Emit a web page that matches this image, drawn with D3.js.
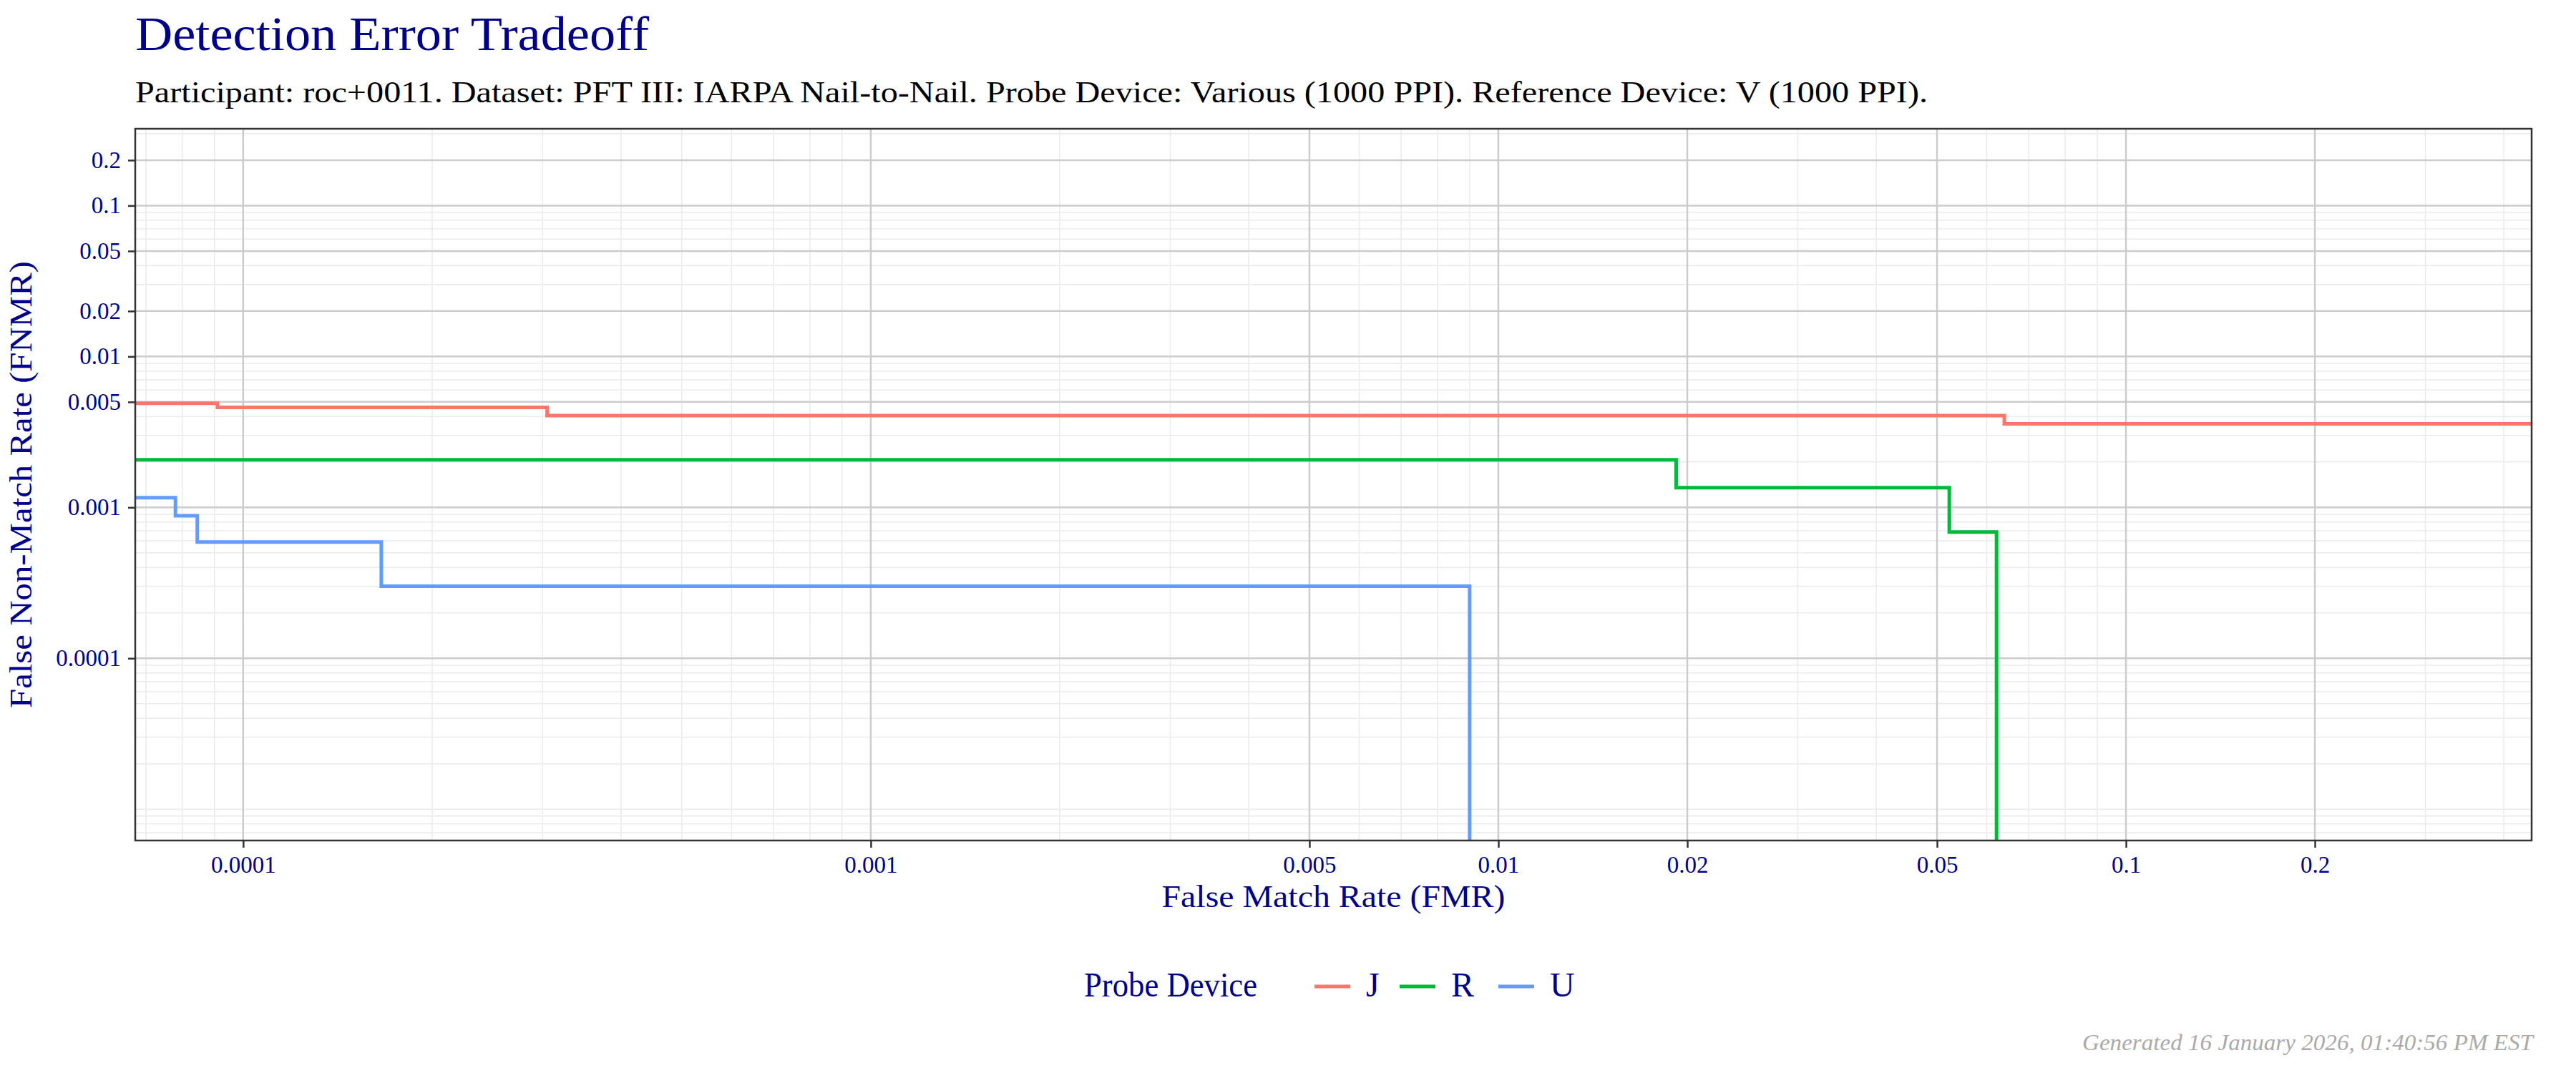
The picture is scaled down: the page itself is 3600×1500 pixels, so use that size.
<!DOCTYPE html>
<html><head><meta charset="utf-8">
<script src="https://cdn.jsdelivr.net/npm/d3@7/dist/d3.min.js"></script>
<style>body{margin:0;background:#fff}text{font-family:"Liberation Serif","DejaVu Serif",serif}</style>
</head><body>
<svg id="c" width="3600" height="1500"></svg>
<script>
const seriesNames = ["J","R","U"];
const seriesColors = ["#F8766D","#00BA38","#619CFF"];
// step points: [FMR at which the step ends, FNMR level]
const J_fmr = [0.000091, 0.000305, 0.064, 0.45];
const J_fnmr = [0.0049, 0.0046, 0.00406, 0.00358];
const R_fmr = [0.0192, 0.0523, 0.0622];
const R_fnmr = [0.00207, 0.00135, 0.000687];
const U_fmr = [0.000078, 0.0000845, 0.000166, 0.0090];
const U_fnmr = [0.00116, 0.00088, 0.00059, 0.0003];
const xTicks = [0.0001,0.001,0.005,0.01,0.02,0.05,0.1,0.2];
const yTicks = [0.0001,0.001,0.005,0.01,0.02,0.05,0.1,0.2];
const xDomain = [6.73e-5, 0.443];
const yDomain = [6.2e-6, 0.323];

const svg = d3.select("#c");
const L=189,R=3538,T=180,B=1175;
const x = d3.scaleLog().domain(xDomain).range([L,R]);
const y = d3.scaleLog().domain(yDomain).range([B,T]);
const navy="#00008B";
const g = svg.append("g");
g.append("rect").attr("x",L).attr("y",T).attr("width",R-L).attr("height",B-T).attr("fill","#fff");
const minors=[];
for(let e=-6;e<=0;e++) for(let m=1;m<10;m++) minors.push(m*Math.pow(10,e));
g.selectAll(".xm").data(minors.filter(v=>v>xDomain[0]&&v<xDomain[1])).enter().append("line")
 .attr("x1",d=>x(d)).attr("x2",d=>x(d)).attr("y1",T).attr("y2",B).attr("stroke","#ebebeb").attr("stroke-width",1.5);
g.selectAll(".ym").data(minors.filter(v=>v>yDomain[0]&&v<yDomain[1])).enter().append("line")
 .attr("y1",d=>y(d)).attr("y2",d=>y(d)).attr("x1",L).attr("x2",R).attr("stroke","#ebebeb").attr("stroke-width",1.5);
g.selectAll(".xg").data(xTicks).enter().append("line")
 .attr("x1",d=>x(d)).attr("x2",d=>x(d)).attr("y1",T).attr("y2",B).attr("stroke","#cccccc").attr("stroke-width",2.5);
g.selectAll(".yg").data(yTicks).enter().append("line")
 .attr("y1",d=>y(d)).attr("y2",d=>y(d)).attr("x1",L).attr("x2",R).attr("stroke","#cccccc").attr("stroke-width",2.5);

const data=[[J_fmr,J_fnmr,false],[R_fmr,R_fnmr,true],[U_fmr,U_fnmr,true]];
data.forEach((s,i)=>{
  const [fm,fn,drop]=s;
  let pts=[[xDomain[0],fn[0]]];
  fm.forEach((f,k)=>{pts.push([Math.min(f,xDomain[1]),fn[k]]); if(k+1<fn.length) pts.push([f,fn[k+1]]);});
  if(drop) pts.push([fm[fm.length-1],yDomain[0]]);
  g.append("path").attr("d",d3.line().x(d=>x(d[0])).y(d=>y(d[1]))(pts))
   .attr("fill","none").attr("stroke",seriesColors[i]).attr("stroke-width",5);
});
g.append("rect").attr("x",L).attr("y",T).attr("width",R-L).attr("height",B-T).attr("fill","none").attr("stroke","#333").attr("stroke-width",2.5);

const fmt=d=>String(d);
const xa=svg.append("g").attr("transform",`translate(0,${B})`).call(d3.axisBottom(x).tickValues(xTicks).tickFormat(fmt).tickSize(10).tickPadding(12));
const ya=svg.append("g").attr("transform",`translate(${L},0)`).call(d3.axisLeft(y).tickValues(yTicks).tickFormat(fmt).tickSize(10).tickPadding(10));
[xa,ya].forEach(a=>{a.select(".domain").remove();a.selectAll("line").attr("stroke","#333").attr("stroke-width",2.5);
 a.selectAll("text").attr("fill",navy).style("font-size","33px");});

svg.append("text").attr("x",L).attr("y",70).text("Detection Error Tradeoff").attr("fill",navy).style("font-size","68px").attr("textLength",718).attr("lengthAdjust","spacingAndGlyphs");
svg.append("text").attr("x",L).attr("y",143).text("Participant: roc+0011. Dataset: PFT III: IARPA Nail-to-Nail. Probe Device: Various (1000 PPI). Reference Device: V (1000 PPI).").attr("fill","#000").style("font-size","43px").attr("textLength",2505).attr("lengthAdjust","spacingAndGlyphs");
svg.append("text").attr("x",(L+R)/2).attr("y",1268).attr("text-anchor","middle").text("False Match Rate (FMR)").attr("fill",navy).style("font-size","44px").attr("textLength",480).attr("lengthAdjust","spacingAndGlyphs");
svg.append("text").attr("transform",`translate(44,${(T+B)/2}) rotate(-90)`).attr("text-anchor","middle").text("False Non-Match Rate (FNMR)").attr("fill",navy).style("font-size","44px").attr("textLength",625).attr("lengthAdjust","spacingAndGlyphs");

const lg=svg.append("g").attr("transform","translate(1515,1393)");
lg.append("text").text("Probe Device").attr("fill",navy).style("font-size","48px").attr("textLength",242).attr("lengthAdjust","spacingAndGlyphs");
const lx=[322,441,579];
seriesNames.forEach((n,i)=>{
  lg.append("line").attr("x1",lx[i]).attr("x2",lx[i]+50).attr("y1",-14).attr("y2",-14).attr("stroke",seriesColors[i]).attr("stroke-width",5);
  lg.append("text").attr("x",lx[i]+72).text(n).attr("fill",navy).style("font-size","48px");
});
svg.append("text").attr("x",3540).attr("y",1468).attr("text-anchor","end").text("Generated 16 January 2026, 01:40:56 PM EST").attr("fill","#aaaaaa").style("font-size","31px").style("font-style","italic").attr("textLength",630).attr("lengthAdjust","spacingAndGlyphs");
</script></body></html>
